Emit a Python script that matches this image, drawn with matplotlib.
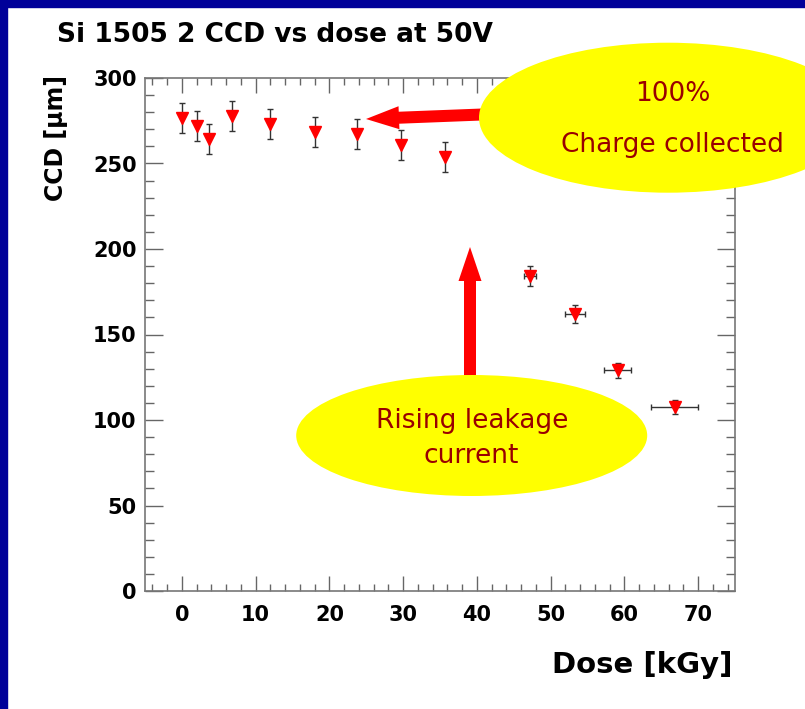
import matplotlib
matplotlib.use('Agg')
import matplotlib.pyplot as plt
from matplotlib.patches import Ellipse, FancyArrow, Rectangle
from matplotlib.ticker import MultipleLocator
from matplotlib.transforms import IdentityTransform

# data
dose = [0, 2.0, 3.7, 6.8, 11.9, 18.0, 23.7, 29.7, 35.7, 47.2, 53.3, 59.1, 66.8]
ccd = [276.4, 272.1, 264.1, 278.0, 272.9, 268.6, 267.3, 260.6, 253.8, 184.3, 162.2, 129.0, 107.7]
ccd_err = [8.8, 8.8, 8.8, 8.8, 8.8, 8.8, 8.8, 8.8, 8.8, 5.9, 5.2, 4.2, 4.1]
dose_err = [0, 0, 0, 0, 0, 0, 0, 0, 0, 0.8, 1.3, 1.85, 3.2]

title = 'Si 1505 2 CCD vs dose at 50V'
xlabel = 'Dose [kGy]'
ylabel = 'CCD [\u03bcm]'

W, H = 805, 709
fig = plt.figure(figsize=(W / 100, H / 100), dpi=100)
fig.patch.set_facecolor('white')
pix = IdentityTransform()


def py(y):                                     # picture y (from top) -> display y
    return H - y


bold = dict(family='DejaVu Sans', weight='bold')

ax = fig.add_axes([145 / W, 1 - 591 / H, 590 / W, 513 / H])
ax.errorbar(dose, ccd, yerr=ccd_err, xerr=dose_err, fmt='none',
            ecolor='#333333', elinewidth=1, capsize=2, capthick=1, zorder=2)
ax.plot(dose, ccd, 'v', color='red', ms=8.5, mec='red', zorder=3)

ax.set_xlim(-5, 75)
ax.set_ylim(0, 300)
ax.xaxis.set_major_locator(MultipleLocator(10))
ax.xaxis.set_minor_locator(MultipleLocator(2))
ax.yaxis.set_major_locator(MultipleLocator(50))
ax.yaxis.set_minor_locator(MultipleLocator(10))
ax.tick_params(which='both', direction='in', top=True, right=True, color='#666666', width=1)
ax.tick_params(axis='x', which='major', length=11, pad=10)
ax.tick_params(axis='x', which='minor', length=5)
ax.tick_params(axis='y', which='major', length=13, pad=6)
ax.tick_params(axis='y', which='minor', length=6.5)
for lab in ax.get_xticklabels() + ax.get_yticklabels():
    lab.set_fontsize(15)
    lab.set_fontweight('bold')
for sp in ax.spines.values():
    sp.set_color('#777777')
    sp.set_linewidth(1.2)

# titles as in the ROOT canvas
fig.text(57, py(42), title, transform=pix, fontsize=19, ha='left', va='baseline', **bold)
fig.text(733, py(673), xlabel, transform=pix, fontsize=21, ha='right', va='baseline', **bold)
fig.text(56, py(138), ylabel, transform=pix, fontsize=17, rotation=90,
         ha='center', va='center', **bold)

# slide border
fig.add_artist(Rectangle((0, py(7)), W, 7, transform=pix, color='#000099', zorder=5))
fig.add_artist(Rectangle((0, 0), 7, H, transform=pix, color='#000099', zorder=5))

# arrows (under the bubbles)
fig.add_artist(FancyArrow(495, py(114), -129, -5, width=12, head_width=23, head_length=33,
                          length_includes_head=True, transform=pix, color='red', lw=0, zorder=3))
fig.add_artist(FancyArrow(470, py(390), 0, 143, width=12, head_width=23, head_length=34,
                          length_includes_head=True, transform=pix, color='red', lw=0, zorder=3))

# bubbles
fig.add_artist(Ellipse((668, py(117.7)), 378, 150, transform=pix, color='#ffff00', lw=0, zorder=4))
fig.add_artist(Ellipse((471.7, py(435.5)), 351, 121, transform=pix, color='#ffff00', lw=0, zorder=4))

note = dict(color='#990000', fontsize=19, family='DejaVu Sans', ha='center', va='baseline',
            transform=pix, zorder=6)
fig.text(673, py(100.7), '100%', **note)
fig.text(672, py(151.7), 'Charge collected', **note)
fig.text(472, py(428.3), 'Rising leakage', **note)
fig.text(471, py(463.3), 'current', **note)

fig.savefig('out.png', dpi=100)
